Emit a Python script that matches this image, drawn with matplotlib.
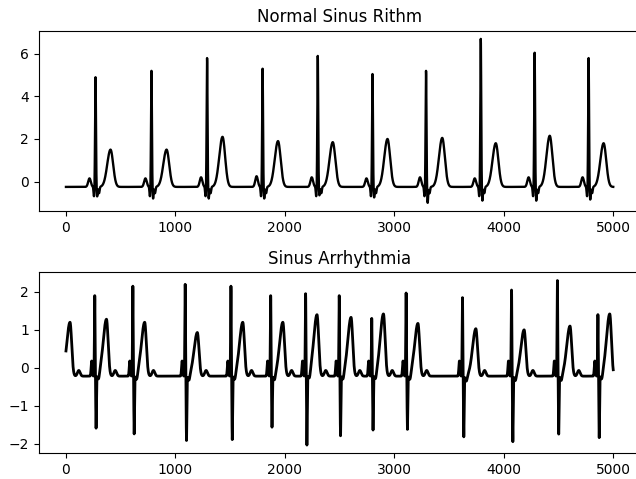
import matplotlib
matplotlib.use('Agg')
import matplotlib.pyplot as plt
import numpy as np

n_samples = 5000

# Normal sinus rhythm: beat landmarks
nsr_r_pos = [270, 781, 1289, 1796, 2300, 2800, 3289, 3789, 4281, 4774]
nsr_r_amp = [4.9, 5.2, 5.8, 5.3, 5.9, 5.05, 5.2, 6.7, 6.05, 5.8]
nsr_s_amp = [-0.7, -0.8, -0.8, -0.8, -0.65, -0.75, -1.0, -0.9, -0.9, -0.85]
nsr_t_pos = [407, 919, 1430, 1937, 2437, 2937, 3437, 3926, 4419, 4911]
nsr_t_amp = [1.5, 1.5, 2.1, 1.9, 1.85, 2.0, 2.05, 1.8, 2.15, 1.8]
nsr_p_amp = [0.15, 0.15, 0.2, 0.25, 0.2, 0.15, 0.2, 0.15, 0.2, 0.2]
nsr_base = -0.25

# Sinus arrhythmia
sa_r_pos = [263, 611, 1089, 1507, 1870, 2189, 2496, 2793, 3107, 3622, 4070, 4489, 4859]
sa_r_amp = [1.9, 2.15, 2.2, 2.15, 1.9, 1.95, 1.9, 1.3, 1.97, 1.85, 2.05, 2.3, 1.4]
sa_s_amp = [-1.6, -1.75, -1.92, -1.9, -1.57, -2.05, -1.8, -1.65, -1.63, -1.82, -1.95, -1.75, -1.85]
sa_t_pos = [37, 370, 719, 1200, 1615, 1981, 2293, 2604, 2900, 3215, 3744, 4185, 4604, 4967]
sa_t_amp = [1.2, 1.28, 1.2, 0.93, 1.2, 1.2, 1.4, 1.33, 1.42, 1.17, 1.03, 1.0, 1.1, 1.42]
sa_base = -0.22


def bump(t, center, amp, left, right=None):
    # gaussian bump, optionally with a different width on each side
    if right is None:
        right = left
    w = np.where(t < center, left, right)
    return amp * np.exp(-0.5 * ((t - center) / w) ** 2)


t = np.arange(n_samples)

# build the normal sinus trace
nsr = np.full(n_samples, nsr_base)
for r, ra, s, pa in zip(nsr_r_pos, nsr_r_amp, nsr_s_amp, nsr_p_amp):
    nsr += bump(t, r - 55, pa - nsr_base, 12)
    nsr += bump(t, r - 14, -0.45, 4)
    nsr += bump(t, r, ra - nsr_base, 4)
    nsr += bump(t, r + 15, s - nsr_base, 4)
    nsr += bump(t, r + 32, -0.3, 5)
for tp, ta in zip(nsr_t_pos, nsr_t_amp):
    nsr += bump(t, tp, ta - nsr_base, 30, 24)

# build the arrhythmia trace
sa = np.full(n_samples, sa_base)
for r, ra, s in zip(sa_r_pos, sa_r_amp, sa_s_amp):
    sa += bump(t, r - 28, 0.4, 5)
    sa += bump(t, r, ra - sa_base, 3)
    sa += bump(t, r + 12, s - sa_base, 3)
    sa += bump(t, r + 35, -0.15, 8)
for tp, ta in zip(sa_t_pos, sa_t_amp):
    sa += bump(t, tp, ta - sa_base, 30, 15)
    sa += bump(t, tp + 80, 0.15, 12)

fig = plt.figure(figsize=(6.36, 4.79), dpi=100)
ax1 = fig.add_axes([38.6 / 636, 1 - 211 / 479, 602 / 636, 180.3 / 479])
ax2 = fig.add_axes([38.6 / 636, 1 - 453.3 / 479, 602 / 636, 181 / 479])

ax1.plot(t, nsr, color='black', linewidth=1.7)
ax1.set_title('Normal Sinus Rithm')
ax2.plot(t, sa, color='black', linewidth=2.0)
ax2.set_title('Sinus Arrhythmia')

fig.savefig('out.png', dpi=100)
